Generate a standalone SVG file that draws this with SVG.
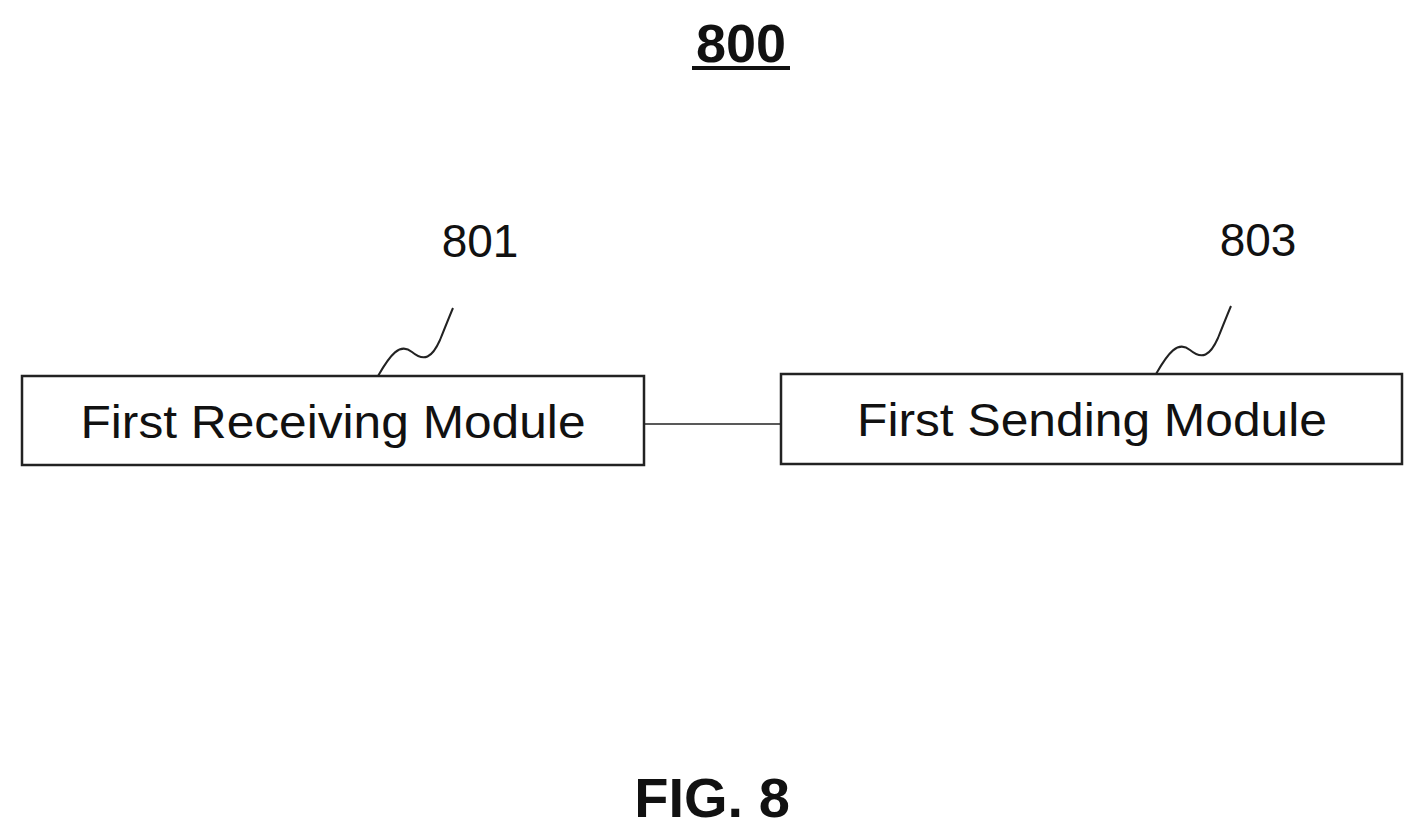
<svg xmlns="http://www.w3.org/2000/svg" width="1425" height="840" viewBox="0 0 1425 840">
<style>
.box{fill:#fff;stroke:#222;stroke-width:2.5}
.t{font-family:"Liberation Sans",Arial,sans-serif;fill:#111}
.lead{fill:none;stroke:#222;stroke-width:2}
</style>
<rect width="1425" height="840" fill="#fff"/>
<text class="t" x="741" y="62" font-size="54" font-weight="bold" text-anchor="middle">800</text>
<line x1="692" y1="68" x2="790" y2="68" stroke="#111" stroke-width="4"/>
<g id="n801">
<rect class="box" x="22" y="376" width="622" height="89"/>
<text class="t" x="333" y="438" font-size="46" text-anchor="middle" textLength="505" lengthAdjust="spacingAndGlyphs">First Receiving Module</text>
<text class="t" x="480" y="257" font-size="46" text-anchor="middle">801</text>
<path class="lead" d="M378,376 C390,355 400,342 412,352 C424,362 432,358 440,340 C446,325 450,315 453,308"/>
</g>
<g id="n803">
<rect class="box" x="781" y="374" width="621" height="90"/>
<text class="t" x="1092" y="436" font-size="46" text-anchor="middle" textLength="470" lengthAdjust="spacingAndGlyphs">First Sending Module</text>
<text class="t" x="1258" y="256" font-size="46" text-anchor="middle">803</text>
<path class="lead" d="M1156,374 C1168,353 1178,340 1190,350 C1202,360 1210,356 1218,338 C1224,323 1228,313 1231,306"/>
</g>
<g id="connectors">
<line x1="644" y1="424" x2="781" y2="424" stroke="#222" stroke-width="1.5"/>
</g>
<text class="t" x="712" y="817" font-size="56" font-weight="bold" text-anchor="middle">FIG. 8</text>
</svg>
